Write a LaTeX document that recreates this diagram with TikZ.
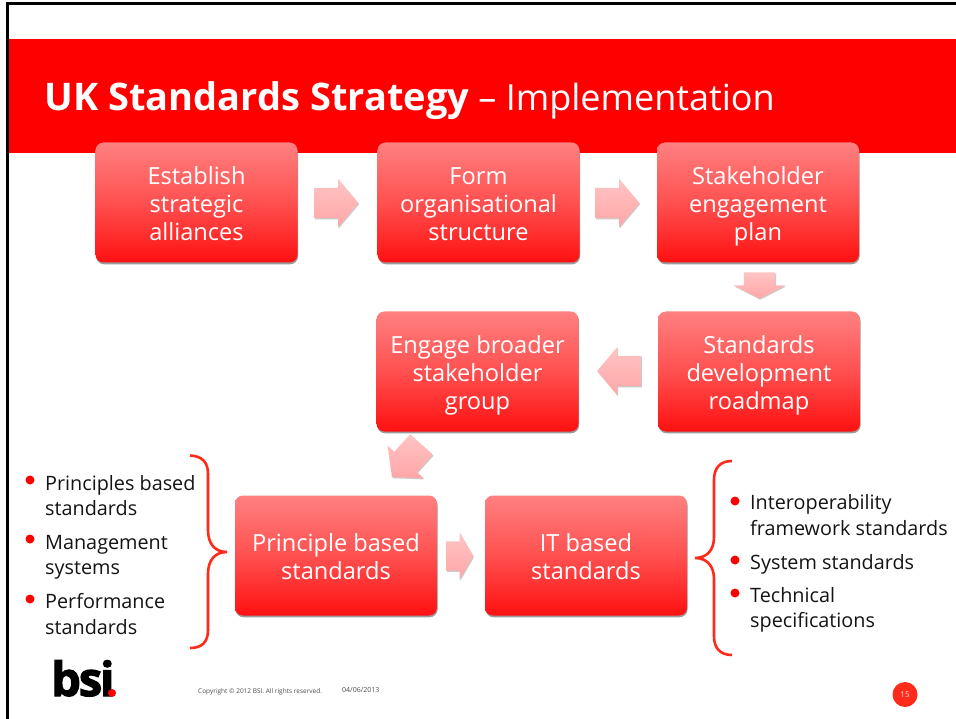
\documentclass[tikz,border=0pt]{standalone}
\usepackage{fontspec}
\setmainfont{Open Sans}
\newfontfamily\logofont[FakeBold=2.4,LetterSpace=-4.5]{Open Sans Bold}
\usetikzlibrary{shapes.arrows,shadows}
\definecolor{bsired}{HTML}{FF0000}
\definecolor{braceRed}{HTML}{FF2A1A}
\definecolor{boxTop}{HTML}{FF8080}
\definecolor{boxMid}{HTML}{FF5050}
\definecolor{boxBot}{HTML}{FF1010}
\definecolor{arrowA}{HTML}{FFC4C4}
\definecolor{arrowB}{HTML}{FFA6A6}
\newcommand{\firstline}{\rule{0pt}{27.6pt}}
\tikzset{
  boxstep/.style={rounded corners=8pt, minimum width=202pt, minimum height=120pt, inner sep=0pt,
    top color=boxTop, bottom color=boxBot, middle color=boxMid,
    general shadow={fill=black!60, opacity=.65, shadow xshift=0.6pt, shadow yshift=-1.8pt},
    text=white, align=center, font=\fontsize{23.6}{28}\selectfont,
    execute at end node=\strut},
  blockarrow/.style={single arrow, minimum height=44pt, inner xsep=0pt, inner ysep=15pt,
    single arrow head extend=9pt, single arrow tip angle=100, top color=arrowA, bottom color=arrowB,
    general shadow={fill=black!45, opacity=.45, shadow xshift=0.8pt, shadow yshift=-1.2pt}},
  brace/.style={draw=braceRed, line width=2.6pt},
  listitem/.style={anchor=base west, inner sep=0pt, align=left, text=black!92, font=\fontsize{19.8}{25.5}\selectfont},
  dot/.style={circle, fill=red, inner sep=0pt, minimum size=9pt},
}
\begin{document}
\begin{tikzpicture}[x=1pt,y=-1pt]
\useasboundingbox (0,0) rectangle (956,719);
\fill[white] (0,0) rectangle (956,719);
\fill[bsired] (7,39) rectangle (956,153);
\draw[black,line width=3pt] (7.5,719) -- (7.5,4) -- (956,4);
\node[anchor=base west, inner sep=0pt, text=white] (title) at (44.5,110.5) {\fontsize{38}{40}\selectfont\textbf{UK Standards Strategy}\fontsize{36}{40}\selectfont{} – Implementation};

\node[boxstep] (a) at (196.5,202.5) {\firstline Establish\\strategic\\alliances};
\node[boxstep] (b) at (478.5,202.5) {\firstline Form\\organisational\\structure};
\node[boxstep] (c) at (758,202.5) {\firstline Stakeholder\\engagement\\plan};
\node[boxstep] (d) at (759,371.5) {\firstline Standards\\development\\roadmap};
\node[boxstep] (e) at (477.5,371.5) {\firstline Engage broader\\stakeholder\\group};
\node[boxstep] (f) at (336,555.5) {\firstline Principle based\\standards};
\node[boxstep] (g) at (586,555.5) {\firstline IT based\\standards};

\node[blockarrow] (ab) at (330,203) {};
\node[blockarrow] (bc) at (611,203) {};
\node[blockarrow, rotate=-90, minimum height=26pt, inner ysep=15.5pt, single arrow head extend=10pt, single arrow tip angle=126] (cd) at (759.5,281.5) {};
\node[blockarrow, rotate=180] (de) at (625.5,371) {};
\node[blockarrow, rotate=228] (ef) at (411,456) {};
\node[blockarrow, minimum height=27pt, inner ysep=14.5pt, single arrow tip angle=120] (fg) at (455.5,556) {};

\draw[brace] (190,455.5) .. controls (202,456) and (208,462) .. (208,474) -- (208,530) .. controls (208,544) and (215,552) .. (227,552) .. controls (215,552) and (208,560) .. (208,574) -- (208,630) .. controls (208,642) and (202,648) .. (190,648);
\draw[brace] (732,461) .. controls (720,461) and (714,468) .. (714,480) -- (714,537) .. controls (714,550) and (707,558) .. (695,558) .. controls (707,558) and (714,566) .. (714,579) -- (714,636) .. controls (714,648) and (720,655) .. (732,655);

\node[dot] (l1) at (30,480) {};
\node[dot] (l2) at (30,539) {};
\node[dot] (l3) at (30,599) {};
\node[listitem] (t1) at (45,515.5) {Principles based\\standards};
\node[listitem] (t2) at (45,574.5) {Management\\systems};
\node[listitem] (t3) at (45,634) {Performance\\standards};

\node[dot] (r1) at (735,501) {};
\node[dot] (r2) at (735,560) {};
\node[dot] (r3) at (735,593) {};
\node[listitem] (u1) at (750,535) {Interoperability\\framework standards};
\node[listitem] (u2) at (750,569) {System standards};
\node[listitem] (u3) at (750,627.5) {Technical\\specifications};

\node[anchor=base west, inner sep=0pt, font=\fontsize{47}{47}\logofont] (logo) at (51,696) {bsi};
\node[circle, fill=red, inner sep=0pt, minimum size=8pt] (logodot) at (112,693) {};
\node[anchor=base west, inner sep=0pt, text=black!70, font=\fontsize{6.5}{7}\selectfont] (copy) at (198,693) {Copyright © 2012 BSI. All rights reserved.};
\node[anchor=base west, inner sep=0pt, text=black!70, font=\fontsize{7}{8}\selectfont] (date) at (342,692.5) {04/06/2013};
\node[circle, fill=braceRed, inner sep=0pt, minimum size=25pt, text=white!90!red, font=\fontsize{8}{9}\selectfont] (page) at (905,694.5) {15};
\end{tikzpicture}
\end{document}
